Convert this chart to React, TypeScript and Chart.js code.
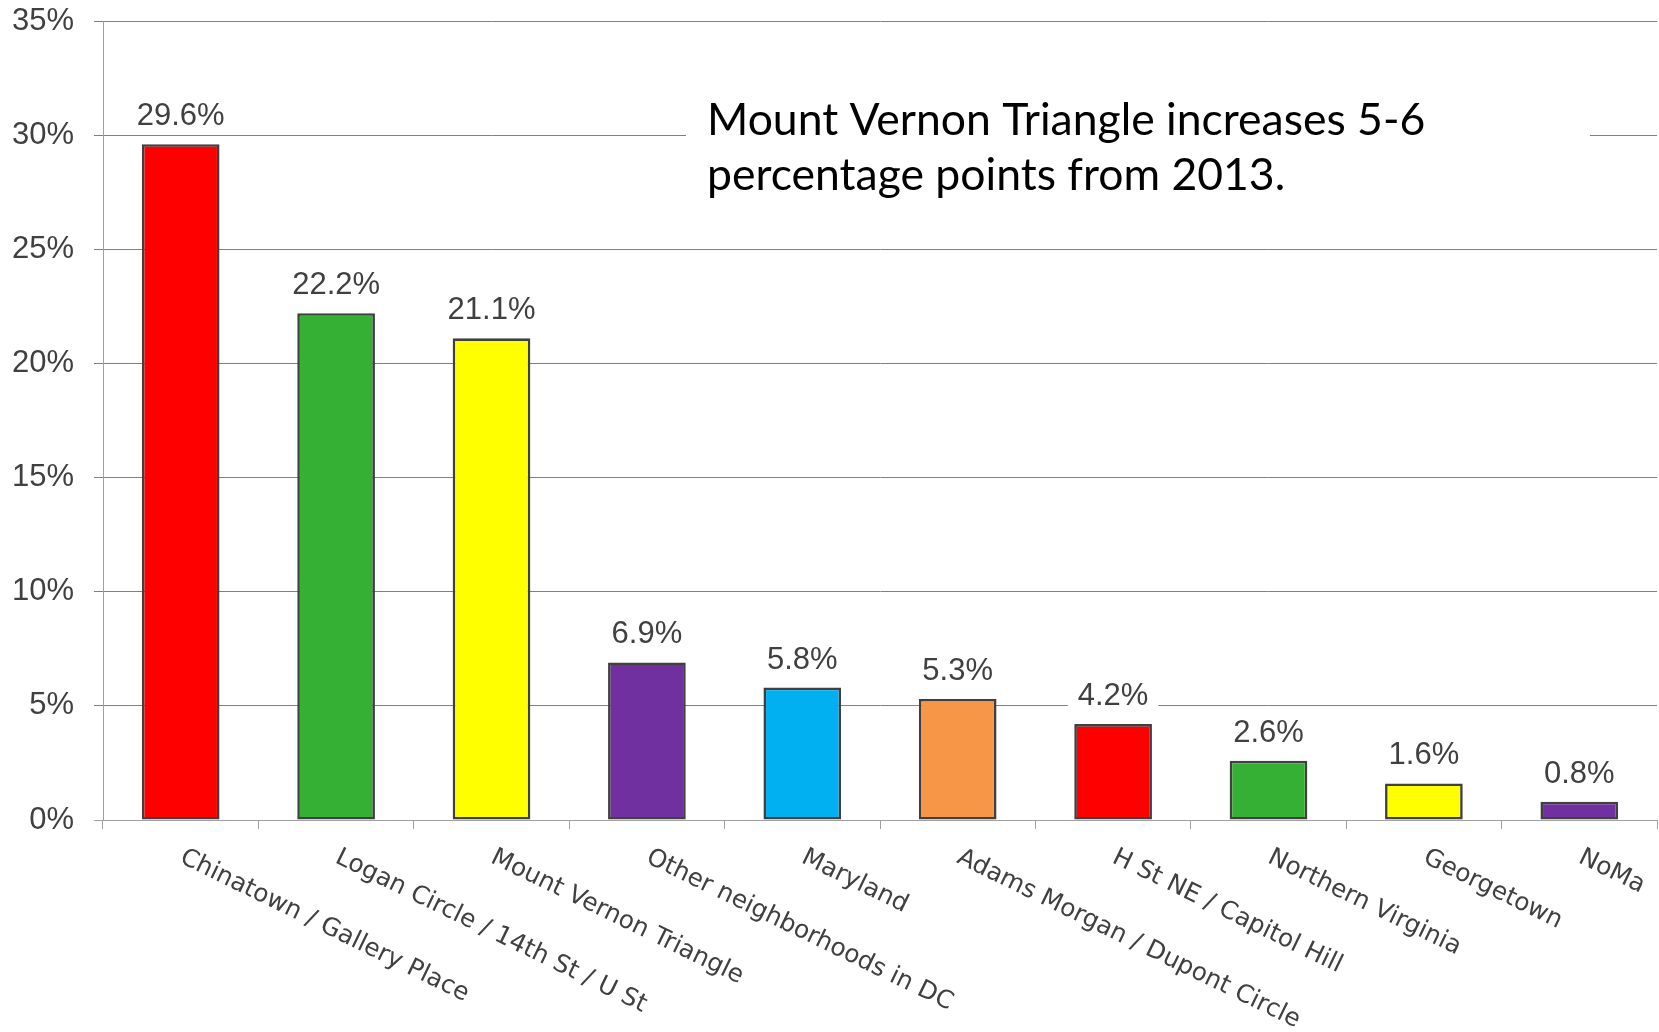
import React, { useEffect, useRef } from "react";
import { Chart, registerables } from "chart.js";

Chart.register(...registerables);

const categories = [
  "Chinatown / Gallery Place",
  "Logan Circle / 14th St / U St",
  "Mount Vernon Triangle",
  "Other neighborhoods in DC",
  "Maryland",
  "Adams Morgan / Dupont Circle",
  "H St NE / Capitol Hill",
  "Northern Virginia",
  "Georgetown",
  "NoMa",
];

const shares = [29.6, 22.2, 21.1, 6.9, 5.8, 5.3, 4.2, 2.6, 1.6, 0.8];

const barColors = [
  "#FF0000",
  "#35B035",
  "#FFFF00",
  "#7030A0",
  "#00B0F0",
  "#F79646",
  "#FF0000",
  "#35B035",
  "#FFFF00",
  "#7030A0",
];

const yTicks = [0, 5, 10, 15, 20, 25, 30, 35];

const noteLines = [
  "Mount Vernon Triangle increases 5-6",
  "percentage points from 2013.",
];

const TEXT = "#404040";

const dataLabelPlugin = {
  id: "dataLabels",
  afterDatasetsDraw(chart: any) {
    const ctx = chart.ctx;
    const meta = chart.getDatasetMeta(0);
    ctx.save();
    ctx.font = '31px "Liberation Sans", Arial, sans-serif';
    ctx.textAlign = "center";
    ctx.textBaseline = "alphabetic";
    meta.data.forEach((bar: any, i: number) => {
      const label = shares[i].toFixed(1) + "%";
      const w = ctx.measureText(label).width;
      const base = bar.y - 19;
      ctx.fillStyle = "#FFFFFF";
      ctx.fillRect(bar.x - w / 2 - 10, base - 28, w + 20, 34);
      ctx.fillStyle = TEXT;
      ctx.fillText(label, bar.x, base);
    });
    ctx.restore();
  },
};

const notePlugin = {
  id: "note",
  afterDraw(chart: any) {
    const ctx = chart.ctx;
    ctx.save();
    ctx.fillStyle = "#FFFFFF";
    ctx.fillRect(686, 88, 904, 118);
    ctx.fillStyle = "#000000";
    ctx.font = '44.5px Lato, "Open Sans", sans-serif';
    ctx.textAlign = "left";
    ctx.textBaseline = "alphabetic";
    ctx.fillText(noteLines[0], 707, 135);
    ctx.fillText(noteLines[1], 707, 190);
    ctx.restore();
  },
};

const xLabelPlugin = {
  id: "xLabels",
  afterDraw(chart: any) {
    const ctx = chart.ctx;
    const xs = chart.scales.x;
    ctx.save();
    ctx.font = '24.8px "DejaVu Sans", sans-serif';
    ctx.fillStyle = TEXT;
    ctx.textAlign = "left";
    ctx.textBaseline = "alphabetic";
    categories.forEach((c, i) => {
      const x = xs.getPixelForValue(i);
      ctx.save();
      ctx.translate(x - 2, xs.top + 42);
      ctx.rotate((26 * Math.PI) / 180);
      ctx.fillText(c, 0, 0);
      ctx.restore();
    });
    ctx.restore();
  },
};

export default function App() {
  const ref = useRef<HTMLCanvasElement | null>(null);

  useEffect(() => {
    document.body.style.margin = "0";
    const canvas = ref.current;
    if (!canvas) return;
    const chart = new Chart(canvas, {
      type: "bar",
      data: {
        labels: categories,
        datasets: [
          {
            data: shares,
            backgroundColor: barColors,
            borderColor: "#404040",
            borderWidth: 2.6,
            borderSkipped: false,
            barPercentage: 0.5,
            categoryPercentage: 1.0,
          },
        ],
      },
      options: {
        responsive: false,
        animation: false,
        devicePixelRatio: 1,
        layout: { padding: { left: 11, top: 21, right: 2, bottom: 0 } },
        plugins: {
          legend: { display: false },
          tooltip: { enabled: false },
        },
        scales: {
          x: {
            grid: {
              display: true,
              offset: true,
              drawOnChartArea: false,
              drawTicks: true,
              tickLength: 9,
              color: "#A0A0A0",
              lineWidth: 1,
            },
            border: { display: true, color: "#A0A0A0", width: 1 },
            ticks: { display: false },
            afterFit(scale: any) {
              scale.height = 212;
              scale.paddingLeft = 0;
              scale.paddingRight = 0;
            },
          },
          y: {
            min: 0,
            max: 35,
            afterBuildTicks(scale: any) {
              scale.ticks = yTicks.map((v) => ({ value: v }));
            },
            grid: {
              color: (c: any) => (c.tick && c.tick.value === 0 ? "#A0A0A0" : "#808080"),
              lineWidth: 1,
              tickLength: 9,
              drawTicks: true,
            },
            border: { display: true, color: "#A0A0A0", width: 1 },
            ticks: {
              padding: 20,
              color: TEXT,
              font: { family: '"Liberation Sans", Arial, sans-serif', size: 31 },
              callback: (v: any) => v + "%",
            },
            afterFit(scale: any) {
              scale.width = 92;
              scale.paddingTop = 0;
              scale.paddingBottom = 0;
            },
          },
        },
      },
      plugins: [dataLabelPlugin, notePlugin, xLabelPlugin],
    });
    return () => chart.destroy();
  }, []);

  return (
    <div style={{ position: "absolute", left: 0, top: 0, width: 1659, height: 1032 }}>
      <canvas ref={ref} width={1659} height={1032} style={{ width: 1659, height: 1032 }} />
    </div>
  );
}
